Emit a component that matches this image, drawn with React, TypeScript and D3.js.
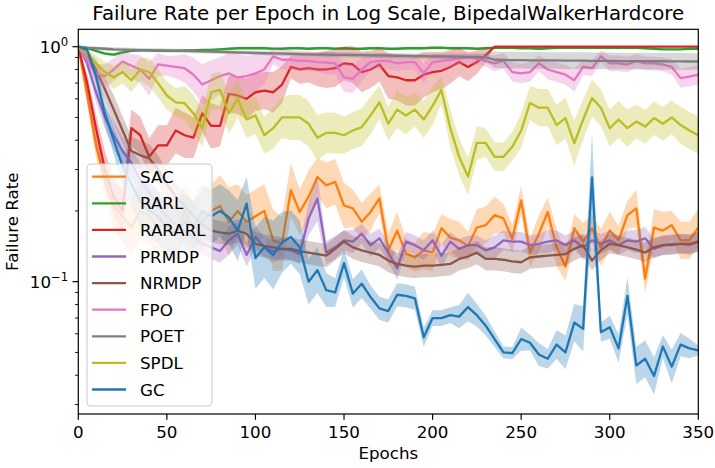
import * as d3 from 'd3';

// epochs sampled every 5
const epochs = d3.range(0, 355, 5);

const sac = [
  1.0, 0.62, 0.38, 0.27, 0.21, 0.19, 0.17, 0.2, 0.19, 0.17,
  0.18, 0.16, 0.2, 0.17, 0.18, 0.2, 0.21, 0.18, 0.2, 0.18,
  0.19, 0.2, 0.15, 0.145, 0.245, 0.198, 0.23, 0.279, 0.257, 0.266,
  0.211, 0.205, 0.18, 0.198, 0.226, 0.136, 0.165, 0.132, 0.127, 0.136,
  0.133, 0.169, 0.154, 0.15, 0.142, 0.17, 0.174, 0.192, 0.186, 0.152,
  0.222, 0.133, 0.16, 0.198, 0.14, 0.116, 0.169, 0.148, 0.169, 0.14,
  0.165, 0.15, 0.192, 0.205, 0.103, 0.17, 0.165, 0.174, 0.15, 0.15,
  0.17,
];
const sacBand = [
  1.0, 1.08, 1.12, 1.2, 1.25, 1.3, 1.3, 1.35, 1.3, 1.3,
  1.3, 1.35, 1.3, 1.3, 1.35, 1.3, 1.35, 1.4, 1.3, 1.3,
  1.3, 1.3, 1.35, 1.3, 1.3, 1.25, 1.3, 1.2, 1.25, 1.25,
  1.25, 1.2, 1.2, 1.2, 1.15, 1.18, 1.2, 1.15, 1.15, 1.2,
  1.2, 1.15, 1.2, 1.2, 1.15, 1.2, 1.2, 1.2, 1.15, 1.15,
  1.15, 1.15, 1.2, 1.15, 1.2, 1.15, 1.15, 1.2, 1.15, 1.2,
  1.2, 1.15, 1.15, 1.2, 1.15, 1.2, 1.2, 1.15, 1.2, 1.2,
  1.2,
];

const rarl = [
  1.0, 0.985, 0.96, 0.935, 0.925, 0.945, 0.96, 0.965, 0.965, 0.96,
  0.96, 0.96, 0.965, 0.965, 0.97, 0.97, 0.975, 0.98, 0.985, 0.985,
  0.985, 0.985, 0.98, 0.98, 0.985, 0.985, 0.98, 0.985, 0.985, 0.98,
  0.985, 0.98, 0.98, 0.985, 0.985, 0.98, 0.98, 0.985, 0.985, 0.985,
  0.99, 0.99, 0.985, 0.985, 0.985, 0.98, 0.985, 0.99, 0.99, 0.99,
  0.985, 0.985, 0.98, 0.985, 0.99, 0.99, 0.99, 0.99, 0.99, 0.99,
  0.99, 0.99, 0.99, 0.99, 0.985, 0.98, 0.975, 0.975, 0.975, 0.98,
  0.98,
];
const rarlBand = [
  1.0, 1.005, 1.01, 1.015, 1.015, 1.015, 1.01, 1.01, 1.01, 1.01,
  1.01, 1.01, 1.01, 1.01, 1.01, 1.01, 1.01, 1.01, 1.01, 1.01,
  1.01, 1.01, 1.01, 1.01, 1.01, 1.01, 1.01, 1.01, 1.01, 1.01,
  1.01, 1.01, 1.01, 1.01, 1.01, 1.01, 1.01, 1.01, 1.01, 1.01,
  1.01, 1.01, 1.01, 1.01, 1.01, 1.01, 1.01, 1.008, 1.008, 1.008,
  1.008, 1.008, 1.008, 1.008, 1.008, 1.008, 1.008, 1.008, 1.008, 1.008,
  1.008, 1.008, 1.008, 1.008, 1.008, 1.01, 1.01, 1.01, 1.01, 1.01,
  1.01,
];

const rararl = [
  1.0, 0.7, 0.45, 0.3, 0.23, 0.2, 0.45, 0.42, 0.34, 0.38,
  0.38, 0.44, 0.42, 0.41, 0.52, 0.46, 0.46, 0.63, 0.62, 0.6,
  0.64, 0.65, 0.64, 0.69, 0.82, 0.8, 0.81, 0.8, 0.8, 0.81,
  0.85, 0.84, 0.78, 0.8, 0.84, 0.75, 0.74, 0.72, 0.72, 0.76,
  0.78, 0.79, 0.82, 0.86, 0.82, 0.86, 0.92, 1.0, 1.0, 1.0,
  1.0, 1.0, 1.0, 1.0, 1.0, 1.0, 1.0, 1.0, 1.0, 1.0,
  1.0, 1.0, 1.0, 1.0, 1.0, 1.0, 1.0, 1.0, 1.0, 1.0,
  1.0,
];
const rararlBand = [
  1.0, 1.1, 1.15, 1.2, 1.2, 1.25, 1.2, 1.2, 1.2, 1.22,
  1.22, 1.25, 1.25, 1.22, 1.2, 1.25, 1.22, 1.2, 1.2, 1.22,
  1.2, 1.2, 1.22, 1.2, 1.12, 1.15, 1.15, 1.18, 1.2, 1.2,
  1.18, 1.2, 1.22, 1.2, 1.18, 1.25, 1.25, 1.28, 1.28, 1.25,
  1.22, 1.2, 1.18, 1.15, 1.15, 1.12, 1.08, 1.0, 1.0, 1.0,
  1.0, 1.0, 1.0, 1.0, 1.0, 1.0, 1.0, 1.0, 1.0, 1.0,
  1.0, 1.0, 1.0, 1.0, 1.0, 1.0, 1.0, 1.0, 1.0, 1.0,
  1.0,
];

const prmdp = [
  1.0, 0.85, 0.64, 0.5, 0.42, 0.36, 0.32, 0.27, 0.24, 0.21,
  0.19, 0.175, 0.165, 0.155, 0.145, 0.14, 0.135, 0.15, 0.16, 0.13,
  0.155, 0.14, 0.135, 0.138, 0.136, 0.131, 0.186, 0.226, 0.133, 0.14,
  0.15, 0.148, 0.16, 0.143, 0.153, 0.133, 0.114, 0.148, 0.143, 0.136,
  0.15, 0.129, 0.148, 0.138, 0.143, 0.143, 0.136, 0.14, 0.15, 0.148,
  0.148, 0.143, 0.145, 0.148, 0.15, 0.143, 0.15, 0.14, 0.15, 0.145,
  0.15, 0.143, 0.15, 0.148, 0.153, 0.138, 0.143, 0.145, 0.145, 0.143,
  0.148,
];
const prmdpBand = [
  1.0, 1.06, 1.1, 1.12, 1.15, 1.15, 1.15, 1.18, 1.18, 1.15,
  1.15, 1.15, 1.15, 1.12, 1.12, 1.12, 1.12, 1.15, 1.12, 1.12,
  1.12, 1.1, 1.12, 1.1, 1.1, 1.1, 1.18, 1.25, 1.12, 1.12,
  1.1, 1.12, 1.1, 1.12, 1.1, 1.1, 1.12, 1.1, 1.1, 1.1,
  1.1, 1.12, 1.1, 1.1, 1.1, 1.1, 1.1, 1.12, 1.1, 1.1,
  1.1, 1.1, 1.1, 1.12, 1.1, 1.1, 1.1, 1.12, 1.1, 1.1,
  1.1, 1.1, 1.1, 1.12, 1.12, 1.1, 1.1, 1.1, 1.1, 1.1,
  1.1,
];

const nrmdp = [
  1.0, 0.92, 0.8, 0.66, 0.54, 0.44, 0.36, 0.345, 0.335, 0.3,
  0.26, 0.23, 0.21, 0.19, 0.175, 0.165, 0.162, 0.16, 0.165, 0.16,
  0.145, 0.142, 0.14, 0.138, 0.138, 0.135, 0.133, 0.131, 0.129, 0.138,
  0.148, 0.14, 0.136, 0.133, 0.13, 0.123, 0.119, 0.117, 0.116, 0.117,
  0.117, 0.118, 0.119, 0.125, 0.128, 0.133, 0.125, 0.125, 0.124, 0.122,
  0.121, 0.127, 0.128, 0.129, 0.13, 0.131, 0.138, 0.143, 0.123, 0.136,
  0.145, 0.143, 0.14, 0.137, 0.133, 0.14, 0.143, 0.143, 0.145, 0.145,
  0.148,
];
const nrmdpBand = [
  1.0, 1.05, 1.1, 1.12, 1.15, 1.15, 1.15, 1.15, 1.15, 1.15,
  1.15, 1.15, 1.15, 1.15, 1.12, 1.12, 1.12, 1.12, 1.12, 1.12,
  1.12, 1.12, 1.12, 1.12, 1.12, 1.12, 1.12, 1.12, 1.12, 1.12,
  1.12, 1.12, 1.12, 1.12, 1.12, 1.12, 1.12, 1.12, 1.12, 1.12,
  1.12, 1.12, 1.12, 1.12, 1.12, 1.12, 1.12, 1.12, 1.12, 1.12,
  1.12, 1.12, 1.12, 1.12, 1.12, 1.12, 1.12, 1.12, 1.1, 1.1,
  1.1, 1.1, 1.1, 1.1, 1.1, 1.1, 1.1, 1.1, 1.1, 1.1,
  1.1,
];

const fpo = [
  1.0, 0.88, 0.77, 0.75, 0.8, 0.865, 0.83, 0.8, 0.73, 0.84,
  0.83, 0.82, 0.81, 0.76, 0.69, 0.72, 0.75, 0.77, 0.74, 0.75,
  0.77, 0.8, 0.91, 0.88, 0.88, 0.87, 0.87, 0.86, 0.855, 0.85,
  0.74, 0.73, 0.8, 0.86, 0.87, 0.87, 0.85, 0.86, 0.86, 0.77,
  0.86, 0.87, 0.88, 0.89, 0.9, 0.89, 0.87, 0.85, 0.87, 0.78,
  0.77, 0.78, 0.85, 0.8, 0.78, 0.76, 0.72, 0.82, 0.81, 0.91,
  0.85, 0.85, 0.84, 0.87, 0.85, 0.85, 0.84, 0.82, 0.735, 0.746,
  0.76,
];
const fpoBand = [
  1.0, 1.05, 1.1, 1.12, 1.12, 1.1, 1.12, 1.15, 1.18, 1.12,
  1.1, 1.12, 1.15, 1.18, 1.22, 1.22, 1.2, 1.22, 1.25, 1.22,
  1.2, 1.15, 1.08, 1.1, 1.1, 1.1, 1.1, 1.1, 1.12, 1.12,
  1.15, 1.15, 1.12, 1.08, 1.08, 1.08, 1.08, 1.08, 1.08, 1.1,
  1.08, 1.08, 1.08, 1.06, 1.06, 1.06, 1.06, 1.08, 1.08, 1.1,
  1.1, 1.1, 1.08, 1.1, 1.1, 1.1, 1.12, 1.08, 1.08, 1.06,
  1.08, 1.08, 1.08, 1.07, 1.07, 1.07, 1.07, 1.08, 1.1, 1.1,
  1.1,
];

const poet = [
  1.0, 0.99, 0.985, 0.98, 0.975, 0.972, 0.97, 0.968, 0.966, 0.965,
  0.964, 0.962, 0.96, 0.957, 0.955, 0.953, 0.95, 0.948, 0.945, 0.943,
  0.94, 0.938, 0.936, 0.934, 0.932, 0.93, 0.928, 0.926, 0.925, 0.924,
  0.923, 0.922, 0.92, 0.919, 0.918, 0.916, 0.915, 0.914, 0.912, 0.911,
  0.91, 0.909, 0.908, 0.907, 0.906, 0.905, 0.9, 0.88, 0.878, 0.877,
  0.876, 0.875, 0.875, 0.874, 0.874, 0.873, 0.872, 0.872, 0.871, 0.87,
  0.87, 0.869, 0.869, 0.868, 0.868, 0.867, 0.867, 0.866, 0.866, 0.865,
  0.865,
];
const poetBand = [
  1.0, 1.01, 1.015, 1.02, 1.02, 1.02, 1.02, 1.02, 1.02, 1.02,
  1.02, 1.02, 1.02, 1.02, 1.02, 1.02, 1.02, 1.02, 1.02, 1.02,
  1.02, 1.02, 1.02, 1.02, 1.02, 1.02, 1.02, 1.02, 1.025, 1.025,
  1.025, 1.025, 1.025, 1.025, 1.025, 1.025, 1.025, 1.025, 1.025, 1.025,
  1.025, 1.025, 1.025, 1.025, 1.025, 1.025, 1.05, 1.085, 1.085, 1.085,
  1.085, 1.085, 1.085, 1.085, 1.085, 1.085, 1.085, 1.085, 1.085, 1.085,
  1.085, 1.085, 1.085, 1.085, 1.085, 1.085, 1.085, 1.085, 1.085, 1.085,
  1.085,
];

const spdl = [
  1.0, 0.93, 0.85, 0.78, 0.74, 0.78, 0.72, 0.8, 0.78, 0.7,
  0.62, 0.58, 0.575, 0.52, 0.45, 0.64, 0.655, 0.52, 0.6, 0.49,
  0.51, 0.42, 0.45, 0.5, 0.5, 0.5, 0.47, 0.41, 0.43, 0.43,
  0.42, 0.44, 0.455, 0.51, 0.58, 0.47, 0.54, 0.51, 0.54, 0.49,
  0.56, 0.655, 0.45, 0.34, 0.28, 0.39, 0.39, 0.34, 0.34, 0.375,
  0.44, 0.576, 0.55, 0.55, 0.464, 0.497, 0.389, 0.49, 0.605, 0.55,
  0.45, 0.49, 0.45, 0.48, 0.457, 0.497, 0.47, 0.5, 0.464, 0.44,
  0.42,
];
const spdlBand = [
  1.0, 1.04, 1.08, 1.1, 1.12, 1.12, 1.12, 1.12, 1.15, 1.15,
  1.15, 1.15, 1.18, 1.2, 1.2, 1.2, 1.2, 1.22, 1.2, 1.2,
  1.2, 1.2, 1.22, 1.22, 1.25, 1.25, 1.25, 1.25, 1.22, 1.22,
  1.2, 1.2, 1.2, 1.2, 1.18, 1.18, 1.2, 1.2, 1.18, 1.2,
  1.2, 1.15, 1.2, 1.2, 1.2, 1.18, 1.15, 1.15, 1.15, 1.15,
  1.18, 1.18, 1.2, 1.2, 1.22, 1.22, 1.25, 1.22, 1.2, 1.2,
  1.2, 1.2, 1.2, 1.18, 1.18, 1.18, 1.18, 1.18, 1.2, 1.2,
  1.2,
];

const gc = [
  1.0, 0.97, 0.75, 0.52, 0.4, 0.31, 0.26, 0.22, 0.2, 0.19,
  0.17, 0.16, 0.18, 0.17, 0.2, 0.19, 0.2, 0.188, 0.165, 0.215,
  0.126, 0.14, 0.13, 0.147, 0.155, 0.14, 0.1, 0.112, 0.092, 0.09,
  0.12, 0.089, 0.098, 0.086, 0.077, 0.075, 0.088, 0.087, 0.085, 0.058,
  0.07, 0.07, 0.072, 0.071, 0.078, 0.072, 0.065, 0.057, 0.05, 0.0497,
  0.057, 0.055, 0.049, 0.047, 0.054, 0.05, 0.067, 0.063, 0.278, 0.061,
  0.064, 0.052, 0.087, 0.044, 0.047, 0.0397, 0.053, 0.0435, 0.054, 0.052,
  0.051,
];
const gcBand = [
  1.0, 1.03, 1.08, 1.12, 1.15, 1.2, 1.25, 1.3, 1.3, 1.3,
  1.3, 1.3, 1.3, 1.3, 1.3, 1.3, 1.3, 1.3, 1.35, 1.3,
  1.35, 1.35, 1.4, 1.35, 1.3, 1.3, 1.25, 1.25, 1.18, 1.15,
  1.15, 1.15, 1.15, 1.12, 1.12, 1.12, 1.12, 1.12, 1.12, 1.1,
  1.08, 1.08, 1.08, 1.12, 1.15, 1.12, 1.1, 1.08, 1.06, 1.06,
  1.12, 1.08, 1.12, 1.1, 1.15, 1.18, 1.2, 1.25, 1.55, 1.1,
  1.12, 1.15, 1.2, 1.2, 1.2, 1.2, 1.12, 1.18, 1.12, 1.1,
  1.05,
];

const seriesNames = ['SAC', 'RARL', 'RARARL', 'PRMDP', 'NRMDP', 'FPO', 'POET', 'SPDL', 'GC'];
const seriesColors = ['#ff7f0e', '#2ca02c', '#d62728', '#9467bd', '#8c564b', '#e377c2', '#7f7f7f', '#bcbd22', '#1f77b4'];
const seriesValues = [sac, rarl, rararl, prmdp, nrmdp, fpo, poet, spdl, gc];
const seriesBands = [sacBand, rarlBand, rararlBand, prmdpBand, nrmdpBand, fpoBand, poetBand, spdlBand, gcBand];

const xTicks = [0, 50, 100, 150, 200, 250, 300, 350];
const yMajor = [1, 0.1];
const yMinor = [0.03, 0.04, 0.05, 0.06, 0.07, 0.08, 0.09, 0.2, 0.3, 0.4, 0.5, 0.6, 0.7, 0.8, 0.9];

const W = 715;
const H = 468;
const left = 78.3;
const right = 698.3;
const top = 29.3;
const bottom = 414;
const font = 'DejaVu Sans, sans-serif';

export default function App() {
  const x = d3.scaleLinear().domain([0, 350]).range([left, right]);
  const y = d3.scaleLog().domain([0.02735, 1.186]).range([bottom, top]);

  const line = d3.line<[number, number]>().x(d => x(d[0])).y(d => y(d[1]));

  return (
    <div style={{ position: 'absolute', left: 0, top: 0 }}>
      <svg width={W} height={H} style={{ display: 'block', background: '#fff' }}>
        <defs>
          <clipPath id="plot">
            <rect x={left} y={top} width={right - left} height={bottom - top} />
          </clipPath>
        </defs>
        <g clipPath="url(#plot)">
          {seriesNames.map((name, si) => {
            const vals = seriesValues[si];
            const band = seriesBands[si];
            const area = d3.area<number>()
              .x((_, i) => x(epochs[i]))
              .y0((v, i) => y(v / band[i]))
              .y1((v, i) => y(v * band[i]));
            const pts = epochs.map((e, i) => [e, vals[i]] as [number, number]);
            return (
              <g key={name}>
                <path d={area(vals) || ''} fill={seriesColors[si]} fillOpacity={0.3} stroke="none" />
                <path d={line(pts) || ''} fill="none" stroke={seriesColors[si]} strokeWidth={2.3} strokeLinejoin="round" />
              </g>
            );
          })}
        </g>

        {/* axes frame */}
        <rect x={left} y={top} width={right - left} height={bottom - top} fill="none" stroke="#000" strokeWidth={1.2} />

        {xTicks.map(t => (
          <g key={t}>
            <line x1={x(t)} x2={x(t)} y1={bottom} y2={bottom + 5.8} stroke="#000" strokeWidth={1.2} />
            <text x={x(t)} y={bottom + 24} textAnchor="middle" fontFamily={font} fontSize={16.7}>{t}</text>
          </g>
        ))}
        {yMinor.map(t => (
          <line key={t} x1={left - 3.3} x2={left} y1={y(t)} y2={y(t)} stroke="#000" strokeWidth={0.9} />
        ))}
        {yMajor.map(t => (
          <g key={t}>
            <line x1={left - 5.8} x2={left} y1={y(t)} y2={y(t)} stroke="#000" strokeWidth={1.2} />
            <text x={left - 10} y={y(t) + 6} textAnchor="end" fontFamily={font} fontSize={16.7}>
              10<tspan fontSize={11.7} dy={-7}>{Math.round(Math.log10(t)) === 0 ? '0' : '\u22121'}</tspan>
            </text>
          </g>
        ))}

        <text x={(left + right) / 2} y={20} textAnchor="middle" fontFamily={font} fontSize={19.8}>
          Failure Rate per Epoch in Log Scale, BipedalWalkerHardcore
        </text>
        <text x={(left + right) / 2} y={459} textAnchor="middle" fontFamily={font} fontSize={16.7}>Epochs</text>
        <text transform={`translate(18,${(top + bottom) / 2}) rotate(-90)`} textAnchor="middle" fontFamily={font} fontSize={16.7}>
          Failure Rate
        </text>

        {/* legend */}
        <rect x={87} y={164} width={125} height={242} rx={4} fill="#fff" fillOpacity={0.8} stroke="#ccc" strokeWidth={1.1} />
        {seriesNames.map((name, i) => {
          const cy = 176.7 + i * 26.6;
          return (
            <g key={name}>
              <line x1={92} x2={126} y1={cy} y2={cy} stroke={seriesColors[i]} strokeWidth={2.3} />
              <text x={140} y={cy + 6} fontFamily={font} fontSize={16.7}>{name}</text>
            </g>
          );
        })}
      </svg>
    </div>
  );
}
